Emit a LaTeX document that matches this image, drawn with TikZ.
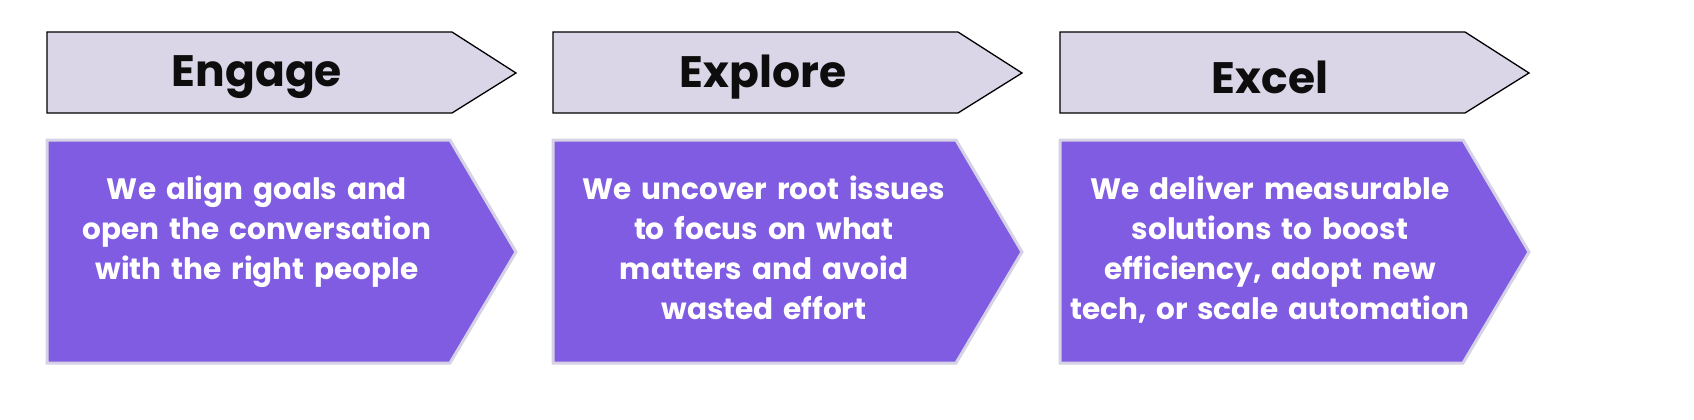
\documentclass[tikz,border=0pt]{standalone}
\usepackage{fontspec}
\setmainfont{Poppins}
\definecolor{topfill}{HTML}{DAD6E8}
\definecolor{purp}{HTML}{805CE2}
\definecolor{rim}{HTML}{D6D2E6}
\begin{document}
\begin{tikzpicture}[x=1pt,y=-1pt,
  hdr/.style={fill=topfill,draw=black,line width=1.3pt},
  body/.style={fill=purp,draw=rim,line width=3pt},
  htxt/.style={font=\fontsize{44}{48}\selectfont\bfseries,text=black!95},
  btxt/.style={font=\fontsize{29.5}{40}\selectfont\bfseries,text=white,align=center,anchor=north,text width=420pt}]
\foreach \x/\h/\n in {47/Engage/a,553/Explore/b,1060/Excel/c}{
  \draw[hdr] (\x,32) -- (\x+405,32) -- (\x+469,73) -- (\x+405,113) -- (\x,113) -- cycle;
  \node[htxt] (h\n) at (\x+210,77) {\h};
  \draw[body] (\x,140) -- (\x+403,140) -- (\x+469,252) -- (\x+403,363) -- (\x,363) -- cycle;
}
\node[btxt] (ta) at (257,172) {We align goals and\\open the conversation\\with the right people};
\node[btxt] (tb) at (764,172) {We uncover root issues\\to focus on what\\matters and avoid\\wasted effort};
\node[btxt] (tc) at (1270,172) {We deliver measurable\\solutions to boost\\efficiency, adopt new\\tech, or scale automation};
\pgfresetboundingbox
\useasboundingbox (0,0) rectangle (1694,420);
\end{tikzpicture}
\end{document}
